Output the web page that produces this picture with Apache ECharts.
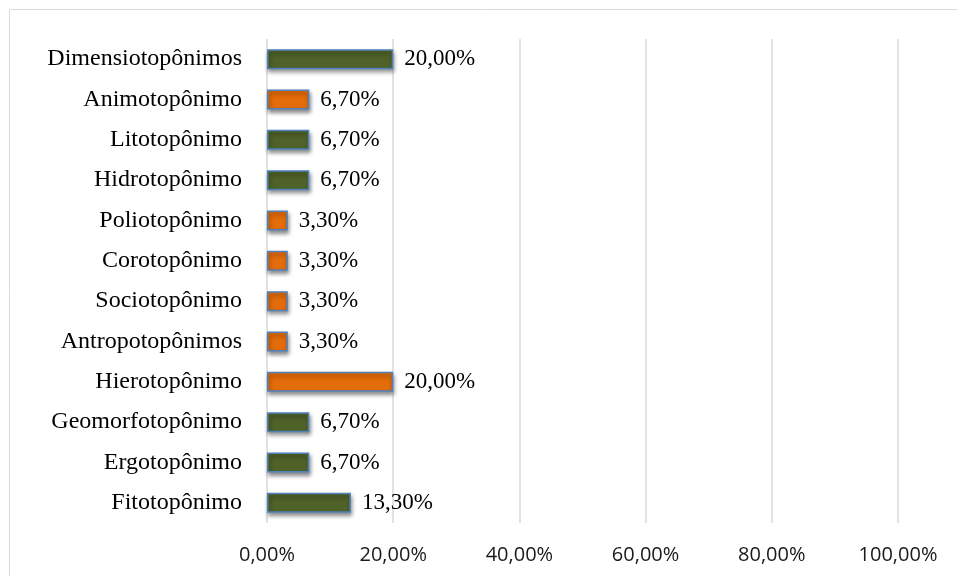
<!DOCTYPE html>
<html>
<head>
<meta charset="utf-8">
<script src="https://cdn.jsdelivr.net/npm/echarts@6/dist/echarts.min.js"></script>
<style>
html,body{margin:0;padding:0;background:#fff;}
#chart{width:957px;height:576px;}
</style>
</head>
<body>
<div id="chart"></div>
<script>
// Categories listed bottom to top
const categories = ['Fitotopônimo','Ergotopônimo','Geomorfotopônimo','Hierotopônimo','Antropotopônimos','Sociotopônimo','Corotopônimo','Poliotopônimo','Hidrotopônimo','Litotopônimo','Animotopônimo','Dimensiotopônimos'];
const values = [13.3, 6.7, 6.7, 20, 3.3, 3.3, 3.3, 3.3, 6.7, 6.7, 6.7, 20];
const groups = ['g','g','g','o','o','o','o','o','g','g','o','g'];
const xTicks = [0, 20, 40, 60, 80, 100];

const groupColor = { g: '#4F6228', o: '#E46C0A' };
const fmt = v => v.toFixed(2).replace('.', ',') + '%';

const chart = echarts.init(document.getElementById('chart'), null, { renderer: 'canvas' });
chart.setOption({
  animation: false,
  backgroundColor: '#ffffff',
  graphic: [{
    type: 'rect',
    shape: { x: 9.5, y: 9.5, width: 1000, height: 1000 },
    style: { fill: 'none', stroke: '#d9d9d9', lineWidth: 1 },
    silent: true
  }],
  grid: { left: 267, right: 59, top: 39, bottom: 53, containLabel: false },
  xAxis: {
    type: 'value',
    min: xTicks[0],
    max: xTicks[xTicks.length - 1],
    interval: 20,
    axisLine: { show: false },
    axisTick: { show: false },
    splitLine: { show: true, lineStyle: { color: '#d9d9d9', width: 1.5 } },
    axisLabel: {
      margin: 22,
      fontFamily: 'Open Sans',
      fontSize: 20,
      color: '#1a1a1a',
      formatter: v => fmt(v)
    }
  },
  yAxis: {
    type: 'category',
    data: categories,
    axisLine: { show: false },
    axisTick: { show: false },
    axisLabel: {
      margin: 25,
      fontFamily: 'Liberation Serif',
      fontSize: 24,
      color: '#000000'
    }
  },
  series: [{
    type: 'bar',
    barWidth: 20,
    data: values.map((v, i) => ({
      value: v,
      itemStyle: { color: groupColor[groups[i]] }
    })),
    itemStyle: {
      borderColor: '#4F81BD',
      borderWidth: 1.5,
      shadowColor: 'rgba(0,0,0,0.45)',
      shadowBlur: 4,
      shadowOffsetX: 1,
      shadowOffsetY: 3
    },
    label: {
      show: true,
      position: 'right',
      distance: 11,
      fontFamily: 'Liberation Serif',
      fontSize: 23,
      color: '#000000',
      formatter: p => fmt(p.value)
    }
  }]
});
</script>
</body>
</html>
